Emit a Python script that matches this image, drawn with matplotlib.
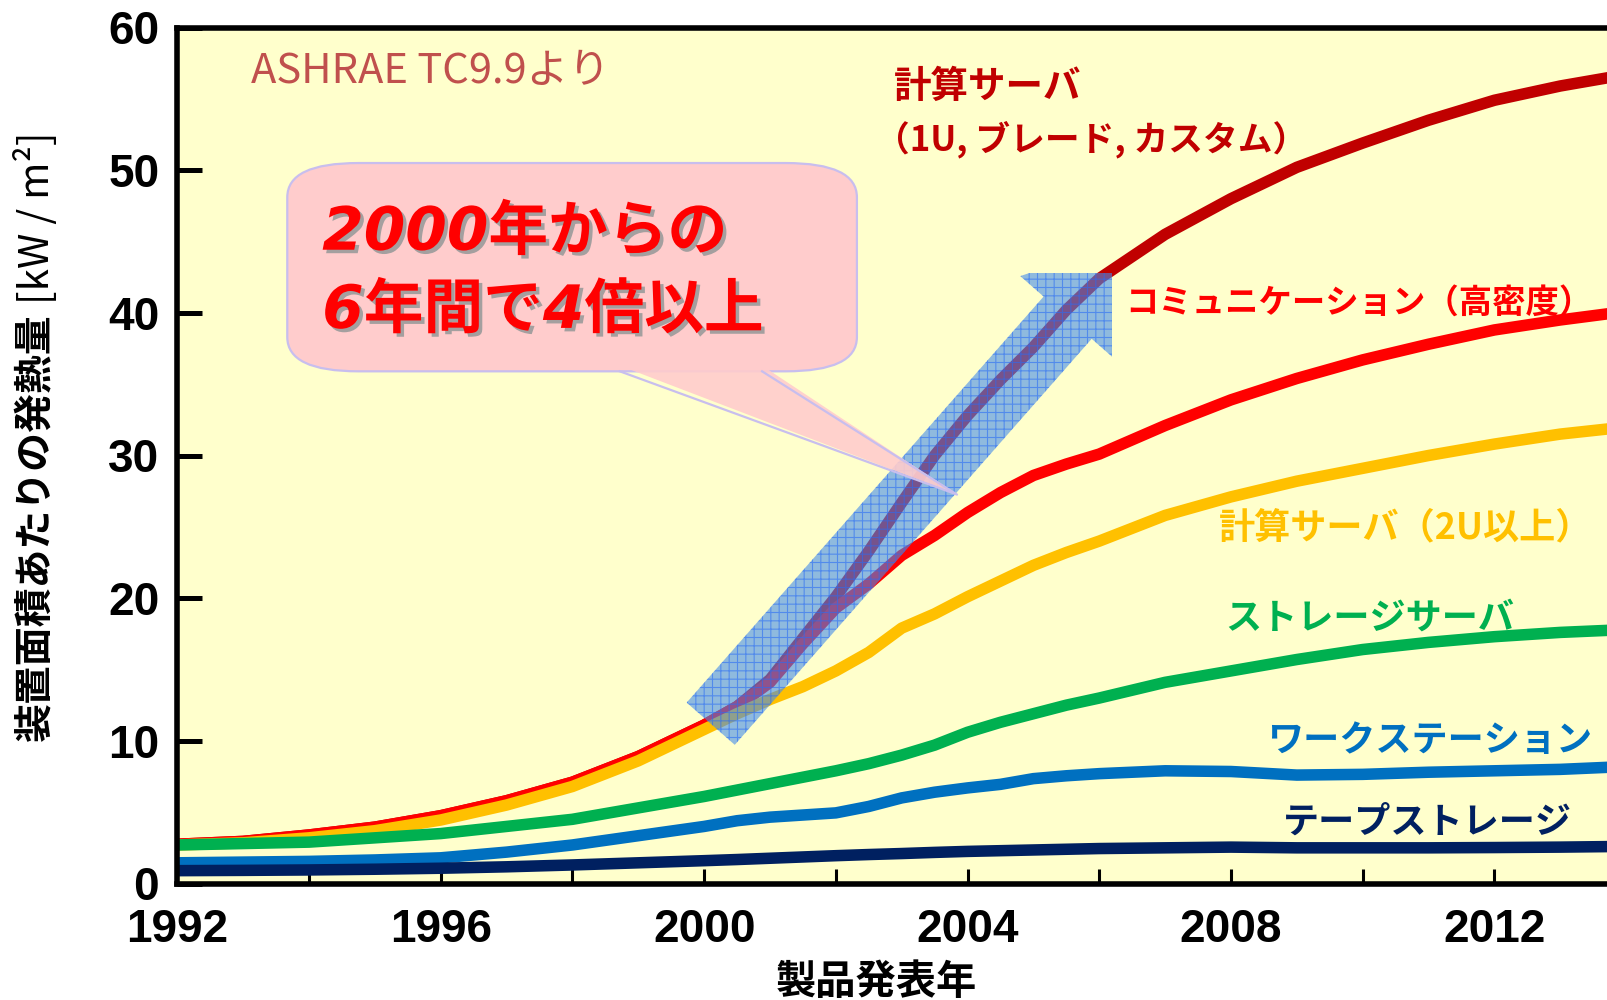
import matplotlib
matplotlib.use('Agg')
import matplotlib.pyplot as plt
import matplotlib.patheffects as pe
from matplotlib.patches import Polygon, FancyBboxPatch, Rectangle
from matplotlib.transforms import IdentityTransform
import numpy as np

plt.rcParams['font.family'] = ['Noto Sans CJK JP', 'DejaVu Sans']

# 年 (2000-2006 は半年刻み)
years = [1992, 1993, 1994, 1995, 1996, 1997, 1998, 1999,
         2000, 2000.5, 2001, 2001.5, 2002, 2002.5, 2003, 2003.5,
         2004, 2004.5, 2005, 2005.5, 2006,
         2007, 2008, 2009, 2010, 2011, 2012, 2013, 2014]

# 発熱量 [kW/m2]
compute_1u = [2.75, 2.95, 3.4, 3.95, 4.75, 5.8, 7.1, 8.9,
              11.1, 12.4, 14.3, 17.2, 20.1, 23.3, 26.7, 30.0,
              32.8, 35.3, 37.6, 40.2, 42.4,
              45.5, 48.0, 50.2, 51.9, 53.5, 54.9, 55.9, 56.7]
communication = [2.75, 2.95, 3.4, 3.95, 4.75, 5.8, 7.1, 8.9,
                 11.1, 12.4, 14.1, 16.8, 19.3, 21.0, 23.0, 24.4,
                 26.0, 27.4, 28.6, 29.4, 30.1,
                 32.1, 33.9, 35.4, 36.7, 37.8, 38.8, 39.5, 40.1]
compute_2u = [2.7, 2.85, 3.2, 3.7, 4.45, 5.5, 6.8, 8.6,
              10.8, 11.9, 12.9, 13.8, 14.9, 16.2, 17.9, 18.9,
              20.1, 21.2, 22.3, 23.2, 24.0,
              25.8, 27.1, 28.2, 29.1, 30.0, 30.8, 31.5, 32.0]
storage = [2.7, 2.8, 2.9, 3.2, 3.5, 4.0, 4.5, 5.3,
           6.1, 6.55, 7.0, 7.45, 7.9, 8.4, 9.0, 9.7,
           10.6, 11.3, 11.9, 12.5, 13.0,
           14.1, 14.9, 15.7, 16.4, 16.9, 17.3, 17.6, 17.8]
workstation = [1.45, 1.5, 1.55, 1.65, 1.8, 2.2, 2.7, 3.35,
               4.0, 4.4, 4.65, 4.8, 4.95, 5.4, 6.0, 6.4,
               6.7, 6.95, 7.35, 7.55, 7.7,
               7.9, 7.85, 7.6, 7.65, 7.8, 7.9, 8.0, 8.2]
tape = [0.9, 0.92, 0.95, 1.0, 1.07, 1.17, 1.3, 1.45,
        1.6, 1.68, 1.77, 1.86, 1.95, 2.03, 2.1, 2.18,
        2.25, 2.3, 2.35, 2.4, 2.45,
        2.5, 2.55, 2.5, 2.5, 2.5, 2.52, 2.55, 2.6]

x_major = [1992, 1996, 2000, 2004, 2008, 2012]
x_minor = [1994, 1998, 2002, 2006, 2010]
y_ticks = [0, 10, 20, 30, 40, 50, 60]

fig = plt.figure(figsize=(16.07, 10), dpi=100)
ax = fig.add_axes([177.3 / 1607, 0.1165, 1 - 177.3 / 1607, 0.856])
ax.set_facecolor('#FFFFCC')
ax.set_xlim(1992, 2013.71)
ax.set_ylim(0, 60)

series = [
    (compute_1u, '#C00000'),
    (communication, '#FF0000'),
    (compute_2u, '#FFC000'),
    (storage, '#00B050'),
    (workstation, '#0070C0'),
    (tape, '#002060'),
]
for vals, col in series:
    ax.plot(years, vals, color=col, lw=8.3, solid_joinstyle='round',
            solid_capstyle='butt', zorder=2)

for s in ['left', 'bottom', 'top']:
    ax.spines[s].set_linewidth(4)
ax.spines['right'].set_visible(False)

tick_font = dict(fontsize=33, fontweight='bold', fontfamily='Liberation Sans')
ax.set_xticks(x_major, [str(y) for y in x_major], **tick_font)
ax.set_xticks(x_minor, minor=True)
ax.set_yticks(y_ticks, [str(v) for v in y_ticks], **tick_font)
ax.tick_params(axis='x', which='both', direction='in', length=11, width=2.2, pad=18)
ax.tick_params(axis='y', direction='in', length=18, width=3.6, pad=13)

# 矢印 (2000年 → 2006年)
arrow_from = (2000.1, 11.2)
arrow_base = (2005.52, 39.66)
arrow_clip = (2006.2, 42.8)
t = ax.transData.transform(arrow_from)
b = ax.transData.transform(arrow_base)
u = (b - t) / np.hypot(*(b - t))
n = np.array([-u[1], u[0]])
w, hw, hl = 32, 63, 110
pts = [t + n * w, b + n * w, b + n * hw, b + u * hl, b - n * hw, b - n * w, t - n * w]
plt.rcParams['hatch.linewidth'] = 0.8
arrow = Polygon(pts, closed=True, transform=IdentityTransform(),
                facecolor=(0.27, 0.55, 0.92), edgecolor='#2a6cf5', lw=0,
                hatch='++', alpha=0.6, zorder=3)
ax.add_patch(arrow)
clip = Rectangle((1992, 0), arrow_clip[0] - 1992, arrow_clip[1], transform=ax.transData)
arrow.set_clip_path(clip)

# 吹き出し
bx0, bx1, by0, by1 = 1993.67, 2002.32, 35.9, 50.5
bubble_face = '#FFCCCC'
bubble_edge = '#C8BEEE'
box = FancyBboxPatch((bx0, by0), bx1 - bx0, by1 - by0,
                     boxstyle='round,pad=0,rounding_size=1.08', mutation_aspect=2.22,
                     facecolor=bubble_face, edgecolor=bubble_edge, lw=1.6, zorder=4)
ax.add_patch(box)
tail_l, tail_r, tail_tip = 1998.72, 2000.88, (2003.84, 27.26)
ax.add_patch(Polygon([(tail_l, by0 + 0.4), (tail_r, by0 + 0.4), tail_tip], closed=True,
                     facecolor=bubble_face, edgecolor='none', alpha=0.9, zorder=4.1))
ax.plot([tail_l, tail_tip[0], tail_r], [by0, tail_tip[1], by0],
        color=bubble_edge, lw=1.6, zorder=4.2)

shadow = [pe.SimplePatchShadow(offset=(2.5, -2.5), shadow_rgbFace='#9a9a9a', alpha=0.9),
          pe.Normal()]
for txt, yy in [('2000年からの', 45.58), ('6年間で4倍以上', 40.1)]:
    ax.text(1994.2, yy, txt, color='#FF0000', fontsize=43, fontweight='bold',
            fontstyle='italic', family=['DejaVu Sans', 'Noto Sans CJK JP'],
            ha='left', va='center', zorder=5, path_effects=shadow)

# 系列ラベル
ax.text(1993.12, 56.95, 'ASHRAE TC9.9より', color='#C0504D', fontsize=30,
        family=['Liberation Sans Narrow', 'Noto Sans CJK JP'], ha='left', va='center', zorder=5)
labels = [
    (2002.88, 55.9, '計算サーバ', '#C00000', 27),
    (2002.6, 52.2, '（1U, ブレード, カスタム）', '#C00000', 25),
    (2006.39, 40.7, 'コミュニケーション（高密度）', '#FF0000', 24),
    (2007.82, 24.95, '計算サーバ（2U以上）', '#FFC000', 26),
    (2007.92, 18.63, 'ストレージサーバ', '#00B050', 26),
    (2008.55, 10.0, 'ワークステーション', '#0070C0', 26),
    (2008.79, 4.32, 'テープストレージ', '#002060', 26),
]
for x, y, s, c, fs in labels:
    ax.text(x, y, s, color=c, fontsize=fs, fontweight='bold', ha='left', va='center', zorder=5)

# 軸ラベル
fig.text(0.0224, 0.473, '装置面積あたりの発熱量', rotation=90, fontsize=28,
         fontweight='bold', ha='center', va='center')
fig.text(0.0224, 0.782, '[kW / m²]', rotation=90, fontsize=29,
         ha='center', va='center')
fig.text(876 / 1607, 0.018, '製品発表年', fontsize=29, fontweight='bold',
         ha='center', va='center')

fig.savefig('out.png', dpi=100)
